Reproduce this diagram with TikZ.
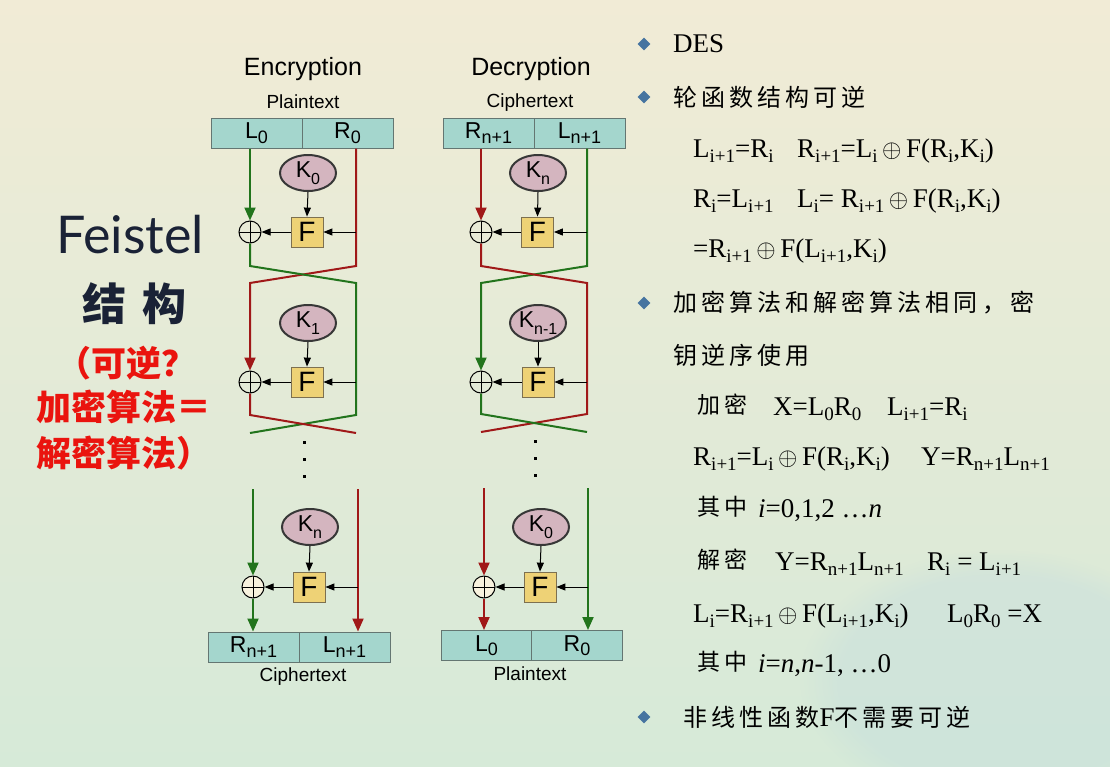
\documentclass[tikz,border=0pt]{standalone}
\usepackage{fontspec}
\setmainfont{Liberation Serif}
\newfontfamily\arialf{Liberation Sans}
\newfontfamily\cjkf{Noto Sans CJK SC}
\newfontfamily\cjkspaced{Noto Sans CJK SC}[LetterSpace=17]
\newfontfamily\titlef{Lato}
\usetikzlibrary{shapes.geometric,arrows.meta,fadings}

\definecolor{bgtop}{RGB}{241,235,214}
\definecolor{bgmid}{RGB}{234,233,213}
\definecolor{bgbot}{RGB}{214,234,216}
\definecolor{marble}{RGB}{188,216,224}
\definecolor{gcol}{RGB}{34,116,28}
\definecolor{rcol}{RGB}{160,24,24}
\definecolor{boxfill}{RGB}{164,214,205}
\definecolor{boxdraw}{RGB}{100,118,114}
\definecolor{keyfill}{RGB}{212,181,191}
\definecolor{keydraw}{RGB}{55,55,55}
\definecolor{ffill}{RGB}{238,210,118}
\definecolor{fdraw}{RGB}{125,112,80}
\definecolor{xfill}{RGB}{248,242,222}
\definecolor{navy}{RGB}{26,34,54}
\definecolor{redtxt}{RGB}{234,20,14}
\definecolor{bullet}{RGB}{70,116,160}

% subscripts: diagram labels, keys, formulas
\newcommand\bsub[1]{\raisebox{-0.2em}{\fontsize{18}{18}\selectfont #1}}
\newcommand\ksub[1]{\raisebox{-0.33em}{\fontsize{16}{16}\selectfont #1}}
\newcommand\lo[1]{\raisebox{-0.2em}{\fontsize{19}{19}\selectfont #1}}
\newcommand\xorop{\,$\oplus$\,}

\tikzset{
  half/.style={draw=boxdraw, fill=boxfill, line width=1pt, minimum width=91pt,
    minimum height=30pt, inner sep=0pt, font=\arialf\fontsize{23}{23}\selectfont},
  keyn/.style={ellipse, draw=keydraw, fill=keyfill, line width=2pt, minimum width=56pt,
    minimum height=36pt, inner sep=0pt, font=\arialf\fontsize{23}{23}\selectfont},
  fbox/.style={draw=fdraw, fill=ffill, line width=0.8pt, minimum width=32pt,
    minimum height=30pt, inner sep=0pt, font=\arialf\fontsize{28}{28}\selectfont},
  xorc/.style={circle, draw=black, line width=1pt, minimum size=22pt, inner sep=0pt,
    path picture={\draw[line width=1pt]
      (path picture bounding box.north) -- (path picture bounding box.south)
      (path picture bounding box.west) -- (path picture bounding box.east);}},
  gline/.style={draw=gcol, line width=2pt},
  rline/.style={draw=rcol, line width=2pt},
  garr/.style={gline, -{Triangle[width=11pt,length=13pt]}},
  rarr/.style={rline, -{Triangle[width=11pt,length=13pt]}},
  karr/.style={draw=black, line width=1pt, -{Triangle[width=7pt,length=9pt]}},
  head/.style={inner sep=0pt, font=\arialf\fontsize{25}{25}\selectfont},
  sublab/.style={inner sep=0pt, font=\arialf\fontsize{19}{19}\selectfont},
  ftext/.style={anchor=base west, inner sep=0pt, font=\fontsize{27}{27}\selectfont},
  ctext/.style={anchor=west, inner sep=0pt, font=\cjkspaced\fontsize{24}{24}\selectfont},
  cbase/.style={anchor=base west, inner sep=0pt, font=\cjkspaced\fontsize{23}{23}\selectfont},
  bul/.style={diamond, fill=bullet, minimum size=13pt, inner sep=0pt},
  redl/.style={anchor=west, inner sep=0pt, text=redtxt, font=\cjkf\bfseries\fontsize{35}{35}\selectfont},
}

\begin{document}
\begin{tikzpicture}[x=1pt,y=-1pt]
\useasboundingbox (0,0) rectangle (1110,766);

% background
\shade[top color=bgtop, middle color=bgmid, bottom color=bgbot] (0,0) rectangle (1110,766);
\fill[marble, opacity=0.3, path fading=circle with fuzzy edge 20 percent]
  (1000,680) ellipse [x radius=200pt, y radius=130pt];

% ---------------- Encryption ----------------
\node[head] (eT) at (303,69) {Encryption};
\node[sublab] (eP) at (303,102) {Plaintext};
\node[half] (eL0) at (256.5,133) {L\bsub{0}};
\node[half] (eR0) at (347.5,133) {R\bsub{0}};

% round 1
\node[keyn] (ek0) at (308,173) {K\ksub{0}};
\node[fbox] (ef0) at (307,232) {F};
\node[xorc] (ex0) at (250,232) {};
% round 2
\node[keyn] (ek1) at (308,323) {K\ksub{1}};
\node[fbox] (ef1) at (307,382) {F};
\node[xorc] (ex1) at (250,382) {};
% last round
\node[keyn] (ek2) at (310,527) {K\ksub{n}};
\node[fbox] (ef2) at (309,587) {F};
\node[xorc, fill=xfill] (ex2) at (253,587) {};
\node[half] (eRn) at (253.5,647) {R\bsub{n+1}};
\node[half] (eLn) at (344.5,647) {L\bsub{n+1}};
\node[sublab] (eC) at (303,677) {Ciphertext};

\coordinate (eA1) at (356,266);
\coordinate (eA2) at (250,266);
\coordinate (eB1) at (250,283);
\coordinate (eB2) at (356,283);
\coordinate (eC1) at (356,415);
\coordinate (eC2) at (250,415);
\coordinate (eD1) at (250,433);
\coordinate (eD2) at (356,433);
\coordinate (eG) at (253,489);
\coordinate (eR) at (358,489);

\draw[garr] (ex0 |- eL0.south) -- (ex0.north);
\draw[rarr] (eA1 |- eR0.south) -- (eA1) -- (eB1) -- (ex1.north);
\draw[gline] (ex0.south) -- (eA2) -- (eB2) -- (eC1) -- (eD1);
\draw[rline] (ex1.south) -- (eC2) -- (eD2);
\draw[karr] (ek0.south) -- (ef0.north);
\draw[karr] (ef0.east -| eA1) -- (ef0.east);
\draw[karr] (ef0.west) -- (ex0.east);
\draw[karr] (ek1.south) -- (ef1.north);
\draw[karr] (ef1.east -| eC1) -- (ef1.east);
\draw[karr] (ef1.west) -- (ex1.east);

\foreach \yy in {442,459,476} \fill (302.5,\yy-1.5) rectangle +(3,3);

\draw[garr] (eG) -- (ex2.north);
\draw[garr] (ex2.south) -- (ex2 |- eRn.north);
\draw[rarr] (eR) -- (eR |- eLn.north);
\draw[karr] (ek2.south) -- (ef2.north);
\draw[karr] (ef2.east -| eR) -- (ef2.east);
\draw[karr] (ef2.west) -- (ex2.east);

% ---------------- Decryption ----------------
\node[head] (dT) at (531,69) {Decryption};
\node[sublab] (dP) at (530,103) {Ciphertext};
\node[half] (dRn) at (488.5,133) {R\bsub{n+1}};
\node[half] (dLn) at (579.5,133) {L\bsub{n+1}};

\node[keyn] (dk0) at (538,173) {K\ksub{n}};
\node[fbox] (df0) at (537.5,232) {F};
\node[xorc] (dx0) at (481,232) {};
\node[keyn] (dk1) at (538,323) {K\ksub{n-1}};
\node[fbox] (df1) at (538,382) {F};
\node[xorc] (dx1) at (481,382) {};
\node[keyn] (dk2) at (541,527) {K\ksub{0}};
\node[fbox] (df2) at (540,587) {F};
\node[xorc, fill=xfill] (dx2) at (484,587) {};
\node[half] (dL0) at (486.5,645.5) {L\bsub{0}};
\node[half] (dR0) at (577,645.5) {R\bsub{0}};
\node[sublab] (dPl) at (530,674) {Plaintext};

\coordinate (dA1) at (587,266);
\coordinate (dA2) at (481,266);
\coordinate (dB1) at (481,283);
\coordinate (dB2) at (587,283);
\coordinate (dC1) at (587,414);
\coordinate (dC2) at (481,414);
\coordinate (dD1) at (481,432);
\coordinate (dD2) at (587,432);
\coordinate (dG) at (484,488);
\coordinate (dR) at (588,488);

\draw[rarr] (dx0 |- dRn.south) -- (dx0.north);
\draw[garr] (dA1 |- dLn.south) -- (dA1) -- (dB1) -- (dx1.north);
\draw[rline] (dx0.south) -- (dA2) -- (dB2) -- (dC1) -- (dD1);
\draw[gline] (dx1.south) -- (dC2) -- (dD2);
\draw[karr] (dk0.south) -- (df0.north);
\draw[karr] (df0.east -| dA1) -- (df0.east);
\draw[karr] (df0.west) -- (dx0.east);
\draw[karr] (dk1.south) -- (df1.north);
\draw[karr] (df1.east -| dC1) -- (df1.east);
\draw[karr] (df1.west) -- (dx1.east);

\foreach \yy in {441,458,475} \fill (533.5,\yy-1.5) rectangle +(3,3);

\draw[rarr] (dG) -- (dx2.north);
\draw[rarr] (dx2.south) -- (dx2 |- dL0.north);
\draw[garr] (dR) -- (dR |- dR0.north);
\draw[karr] (dk2.south) -- (df2.north);
\draw[karr] (df2.east -| dR) -- (df2.east);
\draw[karr] (df2.west) -- (dx2.east);

% ---------------- left caption ----------------
\node[anchor=base west, inner sep=0pt, text=navy, font=\titlef\fontsize{52}{52}\selectfont] (fT) at (56,253) {Feistel};
\node[anchor=west, inner sep=0pt, text=navy, font=\cjkf\bfseries\fontsize{44}{44}\selectfont] (fS) at (82,304) {结\kern16pt构};
\node[redl] (r1) at (56,363) {（可逆？};
\node[redl] (r2) at (36,407) {加密算法＝};
\node[redl] (r3) at (36,453) {解密算法）};

% ---------------- right column ----------------
\node[bul] (b1) at (644,44) {};
\node[bul] (b2) at (644,97) {};
\node[bul] (b3) at (644,303) {};
\node[bul] (b4) at (644,717) {};

\node[ftext] (t1) at (673,52) {DES};
\node[ctext] (t2) at (673,97) {轮函数结构可逆};

\node[ftext] (f1a) at (693,157) {L\lo{i+1}=R\lo{i}};
\node[ftext] (f1b) at (797,157) {R\lo{i+1}=L\lo{i}\xorop F(R\lo{i},K\lo{i})};
\node[ftext] (f2a) at (693,207) {R\lo{i}=L\lo{i+1}};
\node[ftext] (f2b) at (797,207) {L\lo{i}= R\lo{i+1}\xorop F(R\lo{i},K\lo{i})};
\node[ftext] (f3) at (693,257) {=R\lo{i+1}\xorop F(L\lo{i+1},K\lo{i})};

\node[ctext] (t3) at (673,303) {加密算法和解密算法相同，密};
\node[ctext] (t4) at (673,355) {钥逆序使用};

\node[cbase] (g1) at (697,413) {加密};
\node[ftext] (g1a) at (773,415) {X=L\lo{0}R\lo{0}};
\node[ftext] (g1b) at (887,415) {L\lo{i+1}=R\lo{i}};
\node[ftext] (g2a) at (693,465) {R\lo{i+1}=L\lo{i}\xorop F(R\lo{i},K\lo{i})};
\node[ftext] (g2b) at (921,465) {Y=R\lo{n+1}L\lo{n+1}};
\node[cbase] (g3) at (697,515) {其中};
\node[ftext] (g3a) at (758,517) {\textit{i}=0,1,2 …\textit{n}};

\node[cbase] (h1) at (697,568) {解密};
\node[ftext] (h1a) at (775,570) {Y=R\lo{n+1}L\lo{n+1}};
\node[ftext] (h1b) at (927,570) {R\lo{i} = L\lo{i+1}};
\node[ftext] (h2a) at (693,622) {L\lo{i}=R\lo{i+1}\xorop F(L\lo{i+1},K\lo{i})};
\node[ftext] (h2b) at (947,622) {L\lo{0}R\lo{0} =X};
\node[cbase] (h3) at (697,670) {其中};
\node[ftext] (h3a) at (758,672) {\textit{i}=\textit{n},\textit{n}-1, …0};

\node[ctext] (t5) at (683,717) {非线性函数{\rmfamily\fontsize{27}{27}\selectfont F}不需要可逆};
\end{tikzpicture}
\end{document}
